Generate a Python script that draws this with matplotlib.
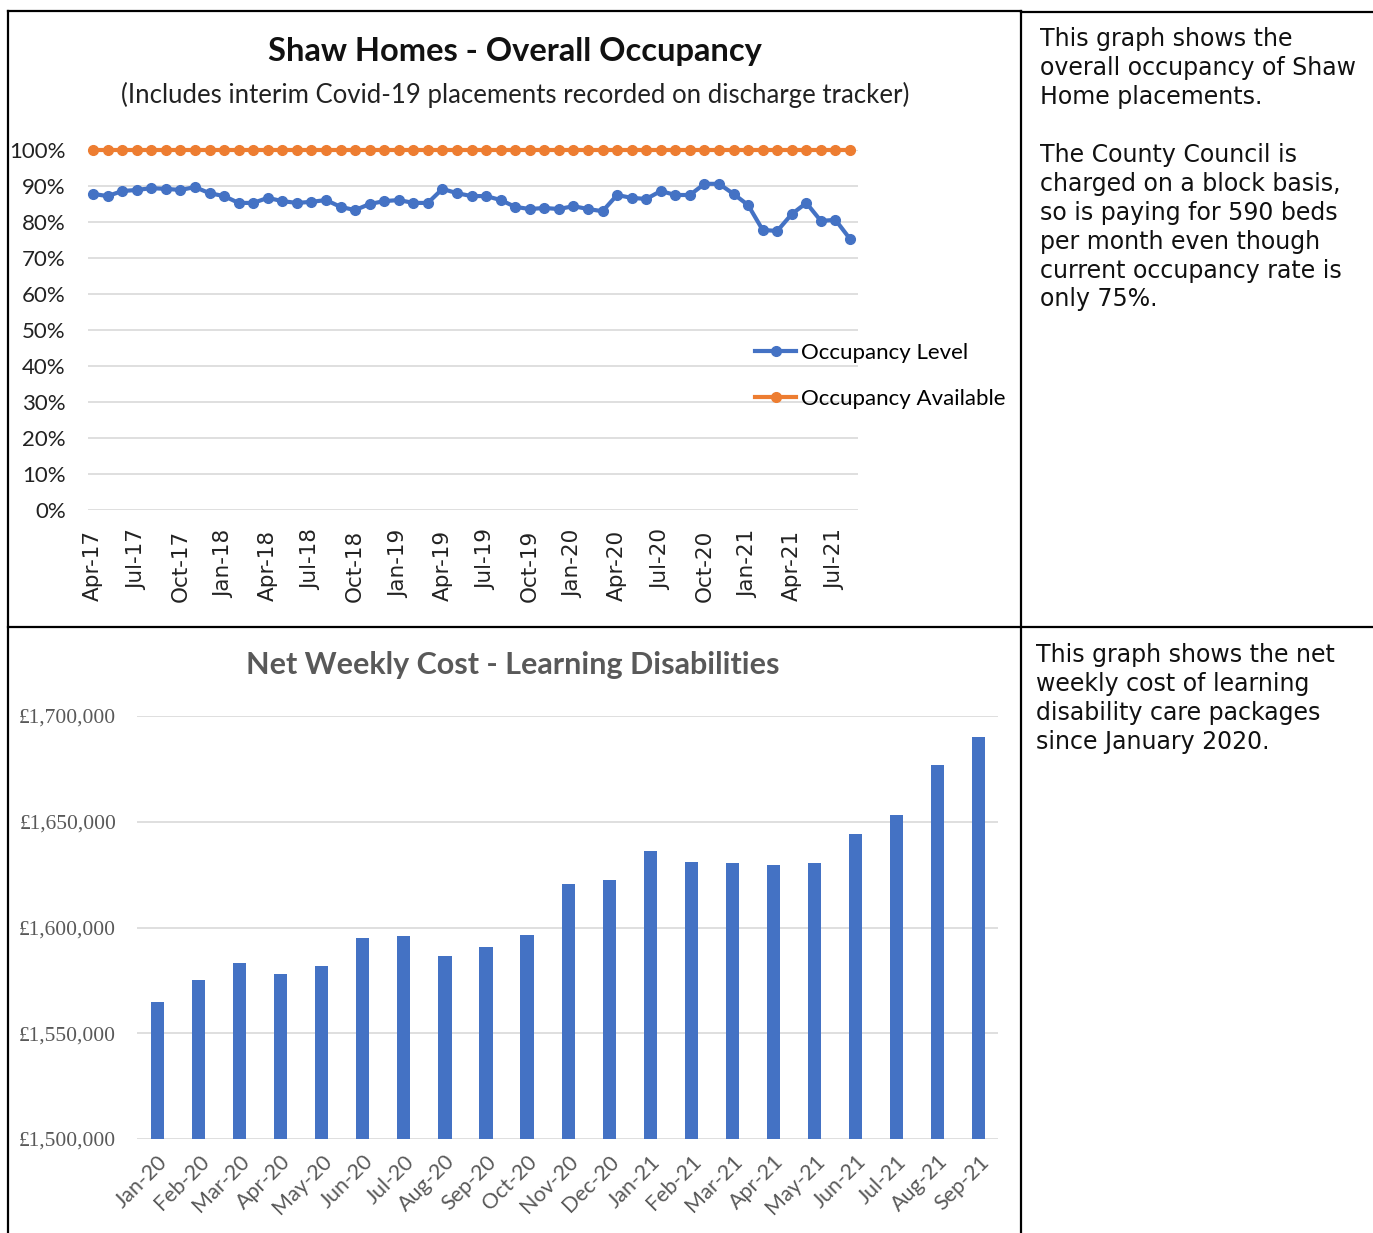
import matplotlib.pyplot as plt
import matplotlib.ticker as mticker
from matplotlib.lines import Line2D

# Top chart: Shaw Homes occupancy, monthly Apr-17 .. Aug-21
occ_months = 53
occ_tick_labels = ["Apr-17", "Jul-17", "Oct-17", "Jan-18", "Apr-18", "Jul-18",
                   "Oct-18", "Jan-19", "Apr-19", "Jul-19", "Oct-19", "Jan-20",
                   "Apr-20", "Jul-20", "Oct-20", "Jan-21", "Apr-21", "Jul-21"]
occupancy_level = [87.8, 87.2, 88.6, 88.9, 89.4, 89.2, 88.9, 89.7, 88.0, 87.2,
                   85.3, 85.3, 86.7, 85.8, 85.3, 85.6, 86.1, 84.2, 83.3, 85.0,
                   85.8, 86.1, 85.3, 85.3, 89.2, 88.0, 87.2, 87.2, 86.1, 84.2,
                   83.6, 83.9, 83.6, 84.4, 83.6, 83.0, 87.5, 86.7, 86.4, 88.6,
                   87.5, 87.5, 90.6, 90.6, 87.8, 84.7, 77.8, 77.5, 82.2, 85.3,
                   80.3, 80.6, 75.3]
occupancy_available = [100.0] * occ_months

# Bottom chart: net weekly cost, learning disabilities
cost_months = ["Jan-20", "Feb-20", "Mar-20", "Apr-20", "May-20", "Jun-20", "Jul-20",
               "Aug-20", "Sep-20", "Oct-20", "Nov-20", "Dec-20", "Jan-21", "Feb-21",
               "Mar-21", "Apr-21", "May-21", "Jun-21", "Jul-21", "Aug-21", "Sep-21"]
weekly_cost = [1565000, 1575000, 1583000, 1578000, 1582000, 1595000, 1596000,
               1586500, 1591000, 1596500, 1620500, 1622500, 1636000, 1631000,
               1630500, 1629500, 1630500, 1644000, 1653000, 1677000, 1690000]

text_top = ("This graph shows the\noverall occupancy of Shaw\nHome placements.\n\n"
            "The County Council is\ncharged on a block basis,\nso is paying for 590 beds\n"
            "per month even though\ncurrent occupancy rate is\nonly 75%.")
text_bottom = ("This graph shows the net\nweekly cost of learning\n"
               "disability care packages\nsince January 2020.")

BLUE = "#4472C4"
ORANGE = "#ED7D31"
GRID = "#D9D9D9"
GREY = "#595959"
NARROW = ["Lato", "DejaVu Sans"]

W, H = 1373, 1233
fig = plt.figure(figsize=(W / 100, H / 100), dpi=100)


def px_axes(x0, y0, x1, y1):
    return fig.add_axes([x0 / W, 1 - y1 / H, (x1 - x0) / W, (y1 - y0) / H])


# table borders
def hline(y, x0, x1):
    fig.add_artist(Line2D([x0 / W, x1 / W], [1 - y / H, 1 - y / H], color="black", lw=1.6))


def vline(x, y0, y1):
    fig.add_artist(Line2D([x / W, x / W], [1 - y0 / H, 1 - y1 / H], color="black", lw=1.6))


hline(11, 8, 1021)
hline(12, 1021, 1373)
hline(627, 8, 1373)
vline(8, 11, 1233)
vline(1021, 11, 1233)

# ---- top chart ----
ax1 = px_axes(88, 150, 858, 510)
x = list(range(occ_months))
ax1.plot(x, occupancy_level, color=BLUE, lw=3, marker="o", ms=7,
         label="Occupancy Level", clip_on=False, zorder=3)
ax1.plot(x, occupancy_available, color=ORANGE, lw=3, marker="o", ms=7,
         label="Occupancy Available", clip_on=False, zorder=3)
ax1.set_xlim(-0.35, occ_months - 1 + 0.55)
ax1.set_ylim(0, 100)
ax1.set_yticks(range(0, 101, 10))
ax1.yaxis.set_major_formatter(mticker.FuncFormatter(lambda v, p: f"{v:.0f}%"))
ax1.set_xticks(range(0, occ_months, 3))
ax1.set_xticklabels(occ_tick_labels, rotation=90, fontsize=15.5, color="#222222")
for lab in ax1.get_yticklabels():
    lab.set_family(NARROW)
    lab.set_fontsize(16)
    lab.set_color("#222222")
ax1.grid(axis="y", color=GRID, lw=1.2)
ax1.set_axisbelow(True)
ax1.tick_params(axis="y", length=0, pad=16)
ax1.tick_params(axis="x", length=0, pad=14)
for s in ax1.spines.values():
    s.set_visible(False)
ax1.legend(loc="center left", bbox_to_anchor=(755 / W, 1 - 376 / H),
           bbox_transform=fig.transFigure, frameon=False,
           prop={"family": NARROW, "size": 16},
           handlelength=1.85, handletextpad=0.2, labelspacing=1.15,
           borderaxespad=0, borderpad=0)
fig.text(515 / W, 1 - 52 / H, "Shaw Homes - Overall Occupancy", ha="center", va="center",
         fontsize=23.5, fontweight="bold", family=NARROW, color="#111111")
fig.text(515 / W, 1 - 95 / H,
         "(Includes interim Covid-19 placements recorded on discharge tracker)",
         ha="center", va="center", fontsize=18.5, family=NARROW, color="#222222")

# ---- bottom chart ----
ax2 = px_axes(137, 716, 998, 1139)
xb = list(range(len(cost_months)))
ax2.bar(xb, weekly_cost, width=0.32, color=BLUE, zorder=3)
ax2.set_xlim(-0.5, len(cost_months) - 0.53)
ax2.set_ylim(1500000, 1700000)
ax2.set_yticks(range(1500000, 1700001, 50000))
ax2.yaxis.set_major_formatter(mticker.FuncFormatter(lambda v, p: f"£{v:,.0f}"))
ax2.set_xticks(xb)
ax2.set_xticklabels(cost_months, rotation=45, ha="right", rotation_mode="anchor",
                    fontsize=15.5, family=NARROW, color=GREY)
for lab in ax2.get_yticklabels():
    lab.set_family(["Liberation Serif", "DejaVu Serif"])
    lab.set_fontsize(15.5)
    lab.set_color(GREY)
ax2.grid(axis="y", color=GRID, lw=1.2)
ax2.set_axisbelow(True)
ax2.tick_params(axis="y", length=0, pad=15)
ax2.tick_params(axis="x", length=0, pad=9)
for s in ax2.spines.values():
    s.set_visible(False)
fig.text(513 / W, 1 - 665 / H, "Net Weekly Cost - Learning Disabilities", ha="center",
         va="center", fontsize=22, fontweight="bold", family=NARROW, color=GREY)

# ---- side notes ----
fig.text(1040 / W, 1 - 27 / H, text_top, ha="left", va="top", fontsize=17,
         linespacing=1.26, color="#111111")
fig.text(1036 / W, 1 - 643 / H, text_bottom, ha="left", va="top", fontsize=17,
         linespacing=1.26, color="#111111")

fig.savefig("out.png", dpi=100, facecolor="white")
